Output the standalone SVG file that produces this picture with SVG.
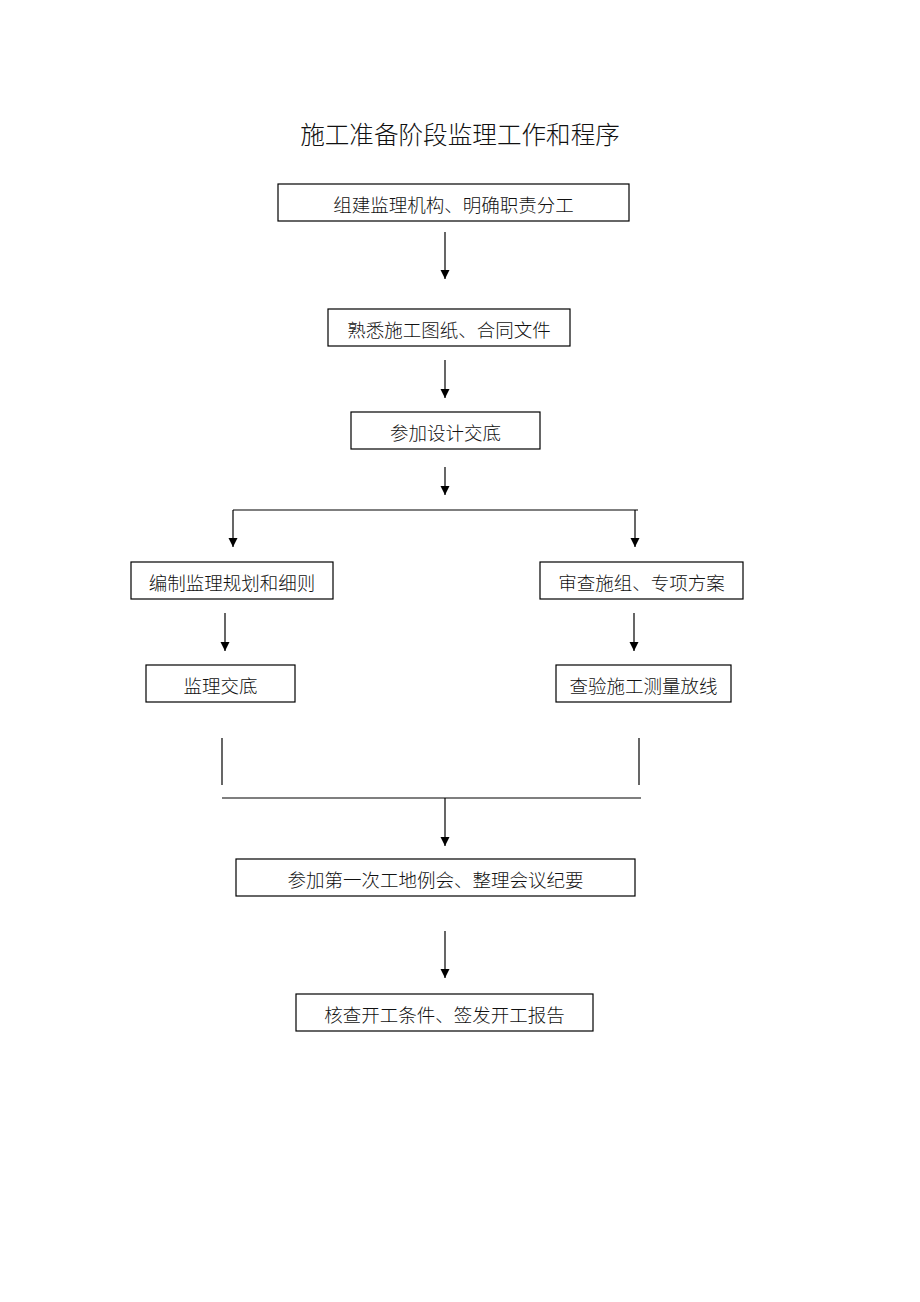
<svg xmlns="http://www.w3.org/2000/svg" width="920" height="1302" viewBox="0 0 920 1302">
<style>
.box{fill:#fff;stroke:#000;stroke-width:1.2}
.t{font-family:"Liberation Serif","Noto Sans CJK SC",serif;font-size:18.5px;font-weight:300;fill:#111;text-anchor:middle}
.title{font-family:"Liberation Serif","Noto Sans CJK SC",serif;font-size:24.6px;font-weight:300;fill:#111;text-anchor:middle}
.ln{stroke:#000;stroke-width:1.2;fill:none}
</style>
<defs>
<marker id="arr" markerWidth="9" markerHeight="10" refX="9" refY="4.5" orient="auto" markerUnits="userSpaceOnUse" viewBox="0 0 9 10">
<path d="M0,0 L9,4.5 L0,9 Z" fill="#000"/>
</marker>
</defs>
<rect width="920" height="1302" fill="#fff"/>
<text class="title" x="460" y="144">施工准备阶段监理工作和程序</text>
<g id="n1"><rect class="box" x="278" y="184" width="351" height="37"/><text class="t" x="453.5" y="212">组建监理机构、明确职责分工</text></g>
<g id="n2"><rect class="box" x="328" y="309" width="242" height="37"/><text class="t" x="449" y="337">熟悉施工图纸、合同文件</text></g>
<g id="n3"><rect class="box" x="351" y="412" width="189" height="37"/><text class="t" x="445.5" y="440">参加设计交底</text></g>
<g id="n4"><rect class="box" x="131" y="562" width="202" height="37"/><text class="t" x="232" y="590">编制监理规划和细则</text></g>
<g id="n5"><rect class="box" x="540" y="562" width="203" height="37"/><text class="t" x="641.5" y="590">审查施组、专项方案</text></g>
<g id="n6"><rect class="box" x="146" y="665" width="149" height="37"/><text class="t" x="220.5" y="693">监理交底</text></g>
<g id="n7"><rect class="box" x="556" y="665" width="175" height="37"/><text class="t" x="643.5" y="693">查验施工测量放线</text></g>
<g id="n8"><rect class="box" x="236" y="859" width="399" height="37"/><text class="t" x="435.5" y="887">参加第一次工地例会、整理会议纪要</text></g>
<g id="n9"><rect class="box" x="296" y="994" width="297" height="37"/><text class="t" x="444.5" y="1022">核查开工条件、签发开工报告</text></g>
<g id="connectors">
<line class="ln" x1="445" y1="232" x2="445" y2="279" marker-end="url(#arr)"/>
<line class="ln" x1="445" y1="360" x2="445" y2="398" marker-end="url(#arr)"/>
<line class="ln" x1="445" y1="467" x2="445" y2="495" marker-end="url(#arr)"/>
<line class="ln" x1="233" y1="510" x2="638" y2="510"/>
<line class="ln" x1="233" y1="510" x2="233" y2="547" marker-end="url(#arr)"/>
<line class="ln" x1="635" y1="510" x2="635" y2="547" marker-end="url(#arr)"/>
<line class="ln" x1="225" y1="613" x2="225" y2="651" marker-end="url(#arr)"/>
<line class="ln" x1="634" y1="613" x2="634" y2="651" marker-end="url(#arr)"/>
<line class="ln" x1="222" y1="738" x2="222" y2="785"/>
<line class="ln" x1="639" y1="738" x2="639" y2="785"/>
<line class="ln" x1="222" y1="798" x2="641" y2="798"/>
<line class="ln" x1="445" y1="798" x2="445" y2="846" marker-end="url(#arr)"/>
<line class="ln" x1="445" y1="931" x2="445" y2="978" marker-end="url(#arr)"/>
</g>
</svg>
